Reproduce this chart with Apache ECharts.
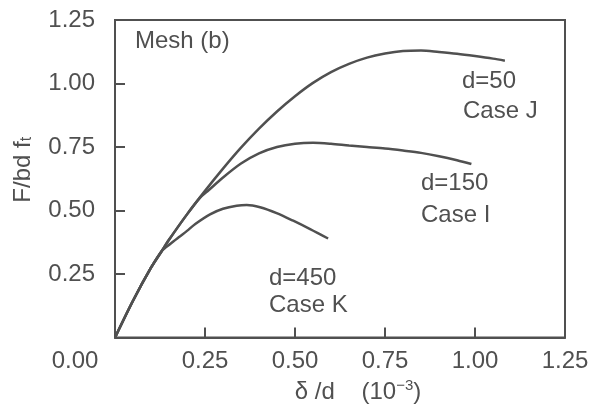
<!DOCTYPE html>
<html>
<head>
<meta charset="utf-8">
<script src="https://cdn.jsdelivr.net/npm/echarts@6/dist/echarts.min.js"></script>
<style>
  html, body { margin: 0; padding: 0; background: #fff; }
  #chart { width: 595px; height: 409px; }
</style>
</head>
<body>
<div id="chart"></div>
<script>
// normalised displacement delta/d (10^-3) and load F/bd ft
const caseJ = [
  [0, 0], [0.05, 0.145], [0.1, 0.275], [0.13, 0.341], [0.15, 0.385], [0.2, 0.485],
  [0.25, 0.5775], [0.3, 0.665], [0.35, 0.7475], [0.4, 0.8225], [0.45, 0.89],
  [0.5, 0.95], [0.55, 1.0025], [0.6, 1.045], [0.65, 1.0775], [0.7, 1.102],
  [0.75, 1.118], [0.8, 1.128], [0.85, 1.13], [0.9, 1.124], [0.95, 1.117],
  [1.0, 1.108], [1.05, 1.098], [1.083, 1.09]
];
const caseI = [
  [0, 0], [0.05, 0.145], [0.1, 0.275], [0.13, 0.341], [0.15, 0.385], [0.2, 0.485],
  [0.236, 0.55], [0.26, 0.58], [0.3, 0.63], [0.35, 0.685], [0.4, 0.725],
  [0.45, 0.75], [0.5, 0.763], [0.55, 0.767], [0.6, 0.763], [0.65, 0.756],
  [0.7, 0.75], [0.75, 0.744], [0.8, 0.736], [0.85, 0.727], [0.9, 0.714],
  [0.95, 0.698], [0.99, 0.683]
];
const caseK = [
  [0, 0], [0.05, 0.145], [0.1, 0.275], [0.13, 0.341], [0.155, 0.37], [0.177, 0.395],
  [0.2, 0.42], [0.223, 0.447], [0.264, 0.485], [0.3, 0.507], [0.338, 0.519],
  [0.366, 0.522], [0.403, 0.513], [0.449, 0.49], [0.495, 0.46], [0.542, 0.427],
  [0.592, 0.39]
];
const xTicks = [0, 0.25, 0.5, 0.75, 1.0, 1.25];
const yTicks = [0, 0.25, 0.5, 0.75, 1.0, 1.25];

const ink = '#505050';
const font = '"Liberation Sans", Arial, sans-serif';

const chart = echarts.init(document.getElementById('chart'), null, { renderer: 'canvas' });

const lineSeries = (name, data) => ({
  name: name,
  type: 'line',
  data: data,
  showSymbol: false,
  smooth: 0.3,
  lineStyle: { color: ink, width: 2.5 },
  itemStyle: { color: ink },
  z: 3
});

const option = {
  animation: false,
  backgroundColor: '#fff',
  textStyle: { fontFamily: font, color: ink },
  grid: {
    left: 115, right: 30, top: 20, bottom: 64,
    show: true, borderColor: ink, borderWidth: 2
  },
  xAxis: {
    type: 'value',
    min: xTicks[0], max: xTicks[xTicks.length - 1], interval: 0.25,
    splitLine: { show: false },
    axisLine: { show: true, lineStyle: { color: ink, width: 2 } },
    axisTick: { inside: true, length: 10, lineStyle: { color: ink, width: 2 } },
    axisLabel: {
      margin: 12, fontSize: 24, color: ink, fontFamily: font,
      formatter: v => v === 0 ? '{z|0.00}' : v.toFixed(2),
      rich: { z: { fontSize: 24, color: ink, fontFamily: font, padding: [0, 80, 0, 0] } }
    },
    name: '{a|δ /d}{s|    }{a|(10}{sup|−3}{a|)}',
    nameLocation: 'middle',
    nameGap: 40,
    nameTextStyle: {
      padding: [0, 0, 0, 36],
      rich: {
        a: { fontSize: 24, color: ink, fontFamily: font },
        s: { fontSize: 24 },
        sup: { fontSize: 15, color: ink, fontFamily: font, verticalAlign: 'top', padding: [0, 0, 12, 0] }
      }
    }
  },
  yAxis: {
    type: 'value',
    min: yTicks[0], max: yTicks[yTicks.length - 1], interval: 0.25,
    splitLine: { show: false },
    axisLine: { show: true, lineStyle: { color: ink, width: 2 } },
    axisTick: { inside: true, length: 10, lineStyle: { color: ink, width: 2 } },
    axisLabel: {
      margin: 20, fontSize: 24, color: ink, fontFamily: font,
      formatter: v => v === 0 ? '' : v.toFixed(2)
    },
    name: '{a|F/bd f}{sub|t}',
    nameLocation: 'middle',
    nameGap: 80,
    nameTextStyle: {
      padding: [0, 0, 0, 18],
      rich: {
        a: { fontSize: 24, color: ink, fontFamily: font },
        sub: { fontSize: 16, color: ink, fontFamily: font, verticalAlign: 'bottom', padding: [8, 0, 0, 0] }
      }
    }
  },
  graphic: [
    { type: 'text', left: 135, top: 29, style: { text: 'Mesh (b)', font: '24px ' + font, fill: ink } },
    { type: 'text', left: 462, top: 69, style: { text: 'd=50', font: '24px ' + font, fill: ink } },
    { type: 'text', left: 463, top: 99, style: { text: 'Case J', font: '24px ' + font, fill: ink } },
    { type: 'text', left: 421, top: 171, style: { text: 'd=150', font: '24px ' + font, fill: ink } },
    { type: 'text', left: 421, top: 203, style: { text: 'Case I', font: '24px ' + font, fill: ink } },
    { type: 'text', left: 269, top: 266, style: { text: 'd=450', font: '24px ' + font, fill: ink } },
    { type: 'text', left: 269, top: 293, style: { text: 'Case K', font: '24px ' + font, fill: ink } }
  ],
  series: [
    lineSeries('d=50 Case J', caseJ),
    lineSeries('d=150 Case I', caseI),
    lineSeries('d=450 Case K', caseK)
  ]
};

chart.setOption(option);
</script>
</body>
</html>
